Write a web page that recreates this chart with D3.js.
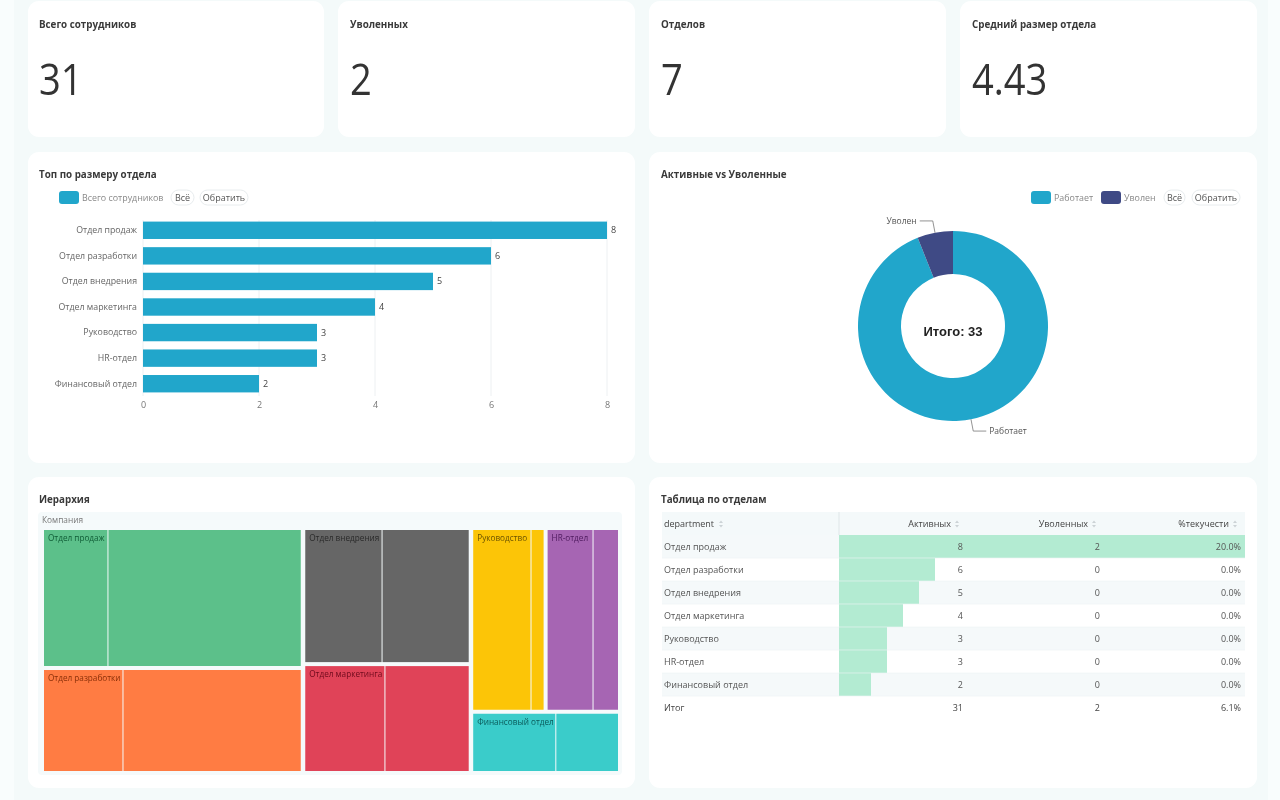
<!DOCTYPE html>
<html><head><meta charset="utf-8">
<script src="https://cdnjs.cloudflare.com/ajax/libs/d3/7.8.5/d3.min.js"></script>
<style>
html,body{margin:0;padding:0;background:#f9fdfd;overflow:hidden}
svg{display:block;filter:blur(0.35px)}
text{font-family:"Open Sans","Noto Sans",sans-serif}
</style></head><body><svg id="c" width="1280" height="800"></svg>
<script>
const kpiLabels=["Всего сотрудников","Уволенных","Отделов","Средний размер отдела"];
const kpiValues=["31","2","7","4.43"];
const departments=["Отдел продаж","Отдел разработки","Отдел внедрения","Отдел маркетинга","Руководство","HR-отдел","Финансовый отдел"];
const headcount=[8,6,5,4,3,3,2];
const activeCounts=[8,6,5,4,3,3,2];
const firedCounts=[2,0,0,0,0,0,0];
const turnover=[20,0,0,0,0,0,0];
const statusLabels=["Работает","Уволен"];
const statusValues=[31,2];
const treeColors=["#5cc08a","#ff7c43","#666666","#e04358","#fcc507","#a665b3","#3accca"];
const treeTextColors=["#0f5c36","#8a2f08","#2a2a2a","#6e0a1c","#6b5300","#4e1a5e","#0a5a5a"];
const subSplitFirst=[2,1.85,2.35,1.95,2.45,1.93,1.14];
const tableHeaders=["department","Активных","Уволенных","%текучести"];
const totals=["Итог","31","2","6.1%"];
const xTicks=[0,2,4,6,8];

const svg=d3.select("#c");
const ink="#3a3a3a";
svg.append("rect").attr("x",14).attr("y",0).attr("width",1254).attr("height",800).attr("fill","#f4fafa");
function card(x,y,w,h){svg.append("rect").attr("x",x).attr("y",y).attr("width",w).attr("height",h).attr("rx",11).attr("fill","#fff");}
function title(x,y,t){svg.append("text").attr("x",x).attr("y",y).attr("font-size",9.8).attr("font-weight",700).attr("fill",ink).text(t);}
function swatch(x,y,c){svg.append("rect").attr("x",x).attr("y",y).attr("width",20).attr("height",13).attr("rx",3).attr("fill",c);}
function lbl(x,y,t,a,s,c){return svg.append("text").attr("x",x).attr("y",y).attr("text-anchor",a||"start").attr("font-size",s||9).attr("fill",c||"#666").text(t);}
function pill(x,y,w,t){svg.append("rect").attr("x",x).attr("y",y).attr("width",w).attr("height",15).attr("rx",7.5).attr("fill","#fff").attr("stroke","#e8ecee");
 lbl(x+w/2,y+11,t,"middle",9,"#555");}

// KPI cards
const kpiX=[28,338,649,960];
const kpiW=[296,297,297,297];
kpiLabels.forEach((t,i)=>{
 card(kpiX[i],1,kpiW[i],136);
 title(kpiX[i]+11+(i?1:0),28,t);
 svg.append("text").attr("transform",`translate(${kpiX[i]+11+(i?1:0)},95) scale(.93,1.05)`)
  .attr("font-size",41).attr("font-weight",400).attr("fill","#333").text(kpiValues[i]);
});

// panels
card(28,152,607,311);card(649,152,608,311);card(28,477,607,311);card(649,477,608,311);
title(39,178,"Топ по размеру отдела");
title(661,178,"Активные vs Уволенные");
title(39,503,"Иерархия");
title(661,503,"Таблица по отделам");

// Bar chart
const x=d3.scaleLinear().domain([0,8]).range([143,607]);
const y=d3.scaleBand().domain(departments).range([217.5,396.5]).paddingInner(0.32).paddingOuter(0.16);
swatch(59,191,"#21a6cb");
lbl(82,201,"Всего сотрудников","start",8.9,"#888");
pill(171,190,23,"Всё");pill(200,190,48,"Обратить");
svg.append("g").selectAll("line").data(xTicks).join("line")
 .attr("x1",d=>x(d)).attr("x2",d=>x(d)).attr("y1",220).attr("y2",396).attr("stroke","#edf0f2");
svg.append("g").selectAll("rect").data(departments).join("rect")
 .attr("x",x(0)).attr("y",d=>y(d)).attr("height",y.bandwidth())
 .attr("width",(d,i)=>x(headcount[i])-x(0)).attr("fill","#21a6cb");
svg.append("g").selectAll("text").data(departments).join("text")
 .attr("x",(d,i)=>x(headcount[i])+4).attr("y",d=>y(d)+y.bandwidth()/2+3)
 .attr("font-size",9).attr("fill","#444").text((d,i)=>headcount[i]);
const ay=svg.append("g").attr("transform","translate(143,0)").call(d3.axisLeft(y).tickSize(0).tickPadding(6));
ay.select(".domain").remove();
ay.selectAll("text").attr("font-size",8.8).attr("fill","#666").attr("font-family",'"Open Sans"');
const ax=svg.append("g").attr("transform","translate(0,397)").call(d3.axisBottom(x).tickValues(xTicks).tickSize(0).tickPadding(5));
ax.select(".domain").remove();
ax.selectAll("text").attr("font-size",9).attr("fill","#777").attr("font-family",'"Open Sans"');

// Donut
swatch(1031,191,"#21a6cb");lbl(1054,201,"Работает","start",8.9,"#888");
swatch(1101,191,"#3f4a85");lbl(1124,201,"Уволен","start",8.9,"#888");
pill(1164,190,21,"Всё");pill(1192,190,48,"Обратить");
const pie=d3.pie().sort(null);
const R=95,cx=953,cy=326;
const arc=d3.arc().innerRadius(52).outerRadius(R);
const gd=svg.append("g").attr("transform",`translate(${cx},${cy})`);
const slices=pie(statusValues);
gd.selectAll("path").data(slices).join("path").attr("d",arc).attr("fill",(d,i)=>i?"#3f4a85":"#21a6cb");
gd.append("text").attr("text-anchor","middle").attr("y",10).attr("font-size",13).attr("font-weight",700)
 .attr("fill","#222").style("font-family","Liberation Sans").text("Итого: "+d3.sum(statusValues));
const lp=d3.line();
slices.forEach((d,i)=>{
 const m=(d.startAngle+d.endAngle)/2,sx=Math.sin(m),sy=-Math.cos(m),side=sx<0?-1:1;
 const p0=[cx+R*sx,cy+R*sy],p1=[cx+(R+12)*sx,cy+(R+12)*sy],p2=[p1[0]+side*13,p1[1]];
 svg.append("path").attr("fill","none").attr("stroke","#777").attr("stroke-width",.8).attr("d",lp([p0,p1,p2]));
 lbl(p2[0]+side*3,p2[1]+3,statusLabels[i],side<0?"end":"start",8.5,"#555");
});

// Treemap
svg.append("rect").attr("x",38).attr("y",512).attr("width",584).attr("height",263).attr("rx",4).attr("fill","#f5fafb");
lbl(42,523,"Компания","start",8.3,"#777");
const dept=i=>({name:departments[i],color:treeColors[i],textColor:treeTextColors[i],children:[
 {value:subSplitFirst[i]},{value:headcount[i]-subSplitFirst[i]}]});
const layoutTree={children:[
 {children:[{children:[dept(0)]},{children:[dept(1)]}]},
 {children:[{children:[dept(2)]},{children:[dept(3)]}]},
 {children:[{children:[dept(4),dept(5)]},{children:[dept(6)]}]}
]};
const root=d3.hierarchy(layoutTree);
root.sum(d=>d.value||0);
d3.treemap().size([574,241])
 .tile((n,a,b,c,e)=>(n.depth===1?d3.treemapSlice:d3.treemapDice)(n,a,b,c,e))
 .paddingInner(n=>n.depth===3?1:n.depth===0?4.5:4)(root);
const gt=svg.append("g").attr("transform","translate(44,530)");
gt.selectAll("rect").data(root.leaves()).join("rect")
 .attr("x",d=>d.x0).attr("y",d=>d.y0).attr("width",d=>d.x1-d.x0).attr("height",d=>d.y1-d.y0)
 .attr("fill",d=>d.parent.data.color);
gt.selectAll("text").data(root.descendants().filter(d=>d.data.name)).join("text")
 .attr("x",d=>d.x0+4).attr("y",d=>d.y0+11).attr("font-size",8.2)
 .attr("fill",d=>d.data.textColor).text(d=>d.data.name);

// Table
const colX=[662,839,967,1104,1245];
const rowTop=535,rowH=23;
svg.append("rect").attr("x",662).attr("y",512).attr("width",583).attr("height",23).attr("fill","#f4f9fa");
svg.append("line").attr("x1",839).attr("x2",839).attr("y1",512).attr("y2",535).attr("stroke","#dfe6e8");
const rows=d3.range(departments.length);
svg.append("g").selectAll("rect").data(rows).join("rect")
 .attr("x",662).attr("width",583).attr("y",i=>rowTop+i*rowH).attr("height",rowH)
 .attr("fill",i=>i%2?"#fff":"#f5f9fa");
[activeCounts,firedCounts,turnover].forEach((vals,c)=>{
 const s=d3.scaleLinear().domain([0,d3.max(vals)]).range([0,colX[c+2]-colX[c+1]]);
 svg.append("g").selectAll("rect").data(rows).join("rect")
  .attr("x",colX[c+1]).attr("y",i=>rowTop+i*rowH).attr("height",rowH)
  .attr("width",i=>s(vals[i])).attr("fill","#b3ebd2");
});
svg.append("g").selectAll("line").data(d3.range(1,departments.length+1)).join("line")
 .attr("x1",662).attr("x2",1245).attr("y1",i=>rowTop+i*rowH).attr("y2",i=>rowTop+i*rowH).attr("stroke","#eef3f4").attr("opacity",.6);
function sortIcon(x,y){svg.append("path").attr("d",`M${x-2},${y-1}L${x},${y-3.5}L${x+2},${y-1}Z M${x-2},${y+1}L${x},${y+3.5}L${x+2},${y+1}Z`).attr("fill","#ccd3d6");}
const headRight=[0,951,1088,1229];
lbl(664,527,tableHeaders[0],"start",9,"#444");sortIcon(721,524);
[1,2,3].forEach(c=>{lbl(headRight[c],527,tableHeaders[c],"end",9,"#444");sortIcon(headRight[c]+6,524);});
const numRight=[963,1100,1241];
rows.forEach(i=>{
 const ty=rowTop+i*rowH+15;
 lbl(664,ty,departments[i],"start",9,"#555");
 lbl(numRight[0],ty,activeCounts[i],"end",9,"#555");
 lbl(numRight[1],ty,firedCounts[i],"end",9,"#555");
 lbl(numRight[2],ty,turnover[i].toFixed(1)+"%","end",9,"#555");
});
const ty=rowTop+7*rowH+15;
lbl(664,ty,totals[0],"start",9,"#444");
numRight.forEach((nx,i)=>lbl(nx,ty,totals[i+1],"end",9,"#444"));
</script></body></html>
